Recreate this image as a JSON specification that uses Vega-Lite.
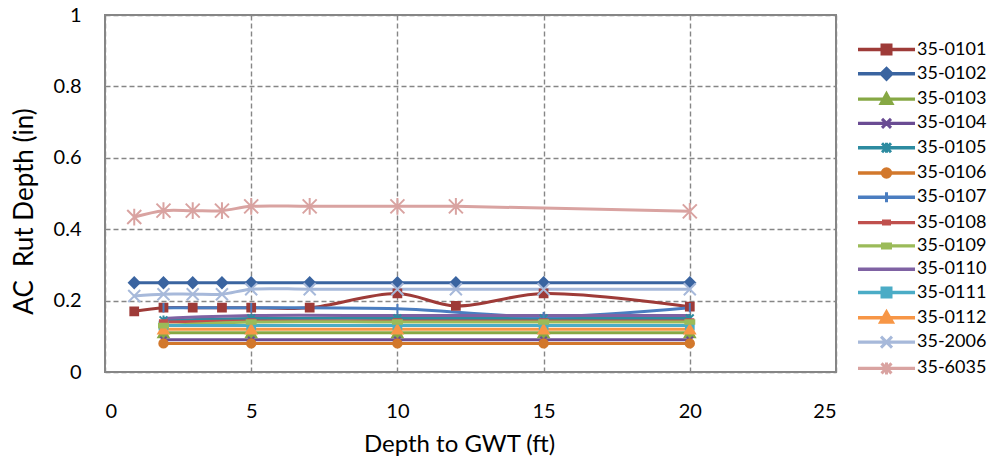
{
  "$schema": "https://vega.github.io/schema/vega-lite/v6.json",
  "autosize": {"type": "none"},
  "width": 731,
  "height": 357,
  "padding": {"left": 105, "top": 15, "right": 157, "bottom": 89},
  "background": "white",
  "config": {
    "font": "Lato",
    "view": {"stroke": "#868686", "strokeWidth": 2},
    "axis": {
      "labelFont": "Lato", "titleFont": "Lato", "labelColor": "#000", "titleColor": "#000",
      "labelFontSize": 20, "titleFontSize": 26, "titleFontWeight": "normal",
      "domain": false, "ticks": false, "tickSize": 0,
      "grid": true, "gridColor": "#868686", "gridWidth": 1.4, "gridDash": [5, 3]
    }
  },
  "data": {"values": [
    {"s":"35-0101","x":1,"y":0.17},{"s":"35-0101","x":2,"y":0.18},{"s":"35-0101","x":3,"y":0.18},{"s":"35-0101","x":4,"y":0.18},{"s":"35-0101","x":5,"y":0.18},{"s":"35-0101","x":7,"y":0.18},{"s":"35-0101","x":10,"y":0.22},{"s":"35-0101","x":12,"y":0.185},{"s":"35-0101","x":15,"y":0.22},{"s":"35-0101","x":20,"y":0.183},
    {"s":"35-0102","x":1,"y":0.25},{"s":"35-0102","x":2,"y":0.25},{"s":"35-0102","x":3,"y":0.25},{"s":"35-0102","x":4,"y":0.25},{"s":"35-0102","x":5,"y":0.25},{"s":"35-0102","x":7,"y":0.25},{"s":"35-0102","x":10,"y":0.25},{"s":"35-0102","x":12,"y":0.25},{"s":"35-0102","x":15,"y":0.25},{"s":"35-0102","x":20,"y":0.25},
    {"s":"35-0103","x":2,"y":0.11},{"s":"35-0103","x":5,"y":0.11},{"s":"35-0103","x":10,"y":0.11},{"s":"35-0103","x":15,"y":0.11},{"s":"35-0103","x":20,"y":0.11},
    {"s":"35-0104","x":2,"y":0.09},{"s":"35-0104","x":5,"y":0.09},{"s":"35-0104","x":10,"y":0.09},{"s":"35-0104","x":15,"y":0.09},{"s":"35-0104","x":20,"y":0.09},
    {"s":"35-0105","x":2,"y":0.145},{"s":"35-0105","x":5,"y":0.15},{"s":"35-0105","x":10,"y":0.15},{"s":"35-0105","x":15,"y":0.15},{"s":"35-0105","x":20,"y":0.15},
    {"s":"35-0106","x":2,"y":0.08},{"s":"35-0106","x":5,"y":0.08},{"s":"35-0106","x":10,"y":0.08},{"s":"35-0106","x":15,"y":0.08},{"s":"35-0106","x":20,"y":0.08},
    {"s":"35-0107","x":2,"y":0.18},{"s":"35-0107","x":5,"y":0.18},{"s":"35-0107","x":10,"y":0.177},{"s":"35-0107","x":15,"y":0.155},{"s":"35-0107","x":20,"y":0.18},
    {"s":"35-0108","x":2,"y":0.14},{"s":"35-0108","x":5,"y":0.143},{"s":"35-0108","x":10,"y":0.143},{"s":"35-0108","x":15,"y":0.143},{"s":"35-0108","x":20,"y":0.143},
    {"s":"35-0109","x":2,"y":0.13},{"s":"35-0109","x":5,"y":0.14},{"s":"35-0109","x":10,"y":0.14},{"s":"35-0109","x":15,"y":0.14},{"s":"35-0109","x":20,"y":0.14},
    {"s":"35-0110","x":2,"y":0.15},{"s":"35-0110","x":5,"y":0.158},{"s":"35-0110","x":10,"y":0.158},{"s":"35-0110","x":15,"y":0.158},{"s":"35-0110","x":20,"y":0.158},
    {"s":"35-0111","x":2,"y":0.13},{"s":"35-0111","x":5,"y":0.13},{"s":"35-0111","x":10,"y":0.13},{"s":"35-0111","x":15,"y":0.13},{"s":"35-0111","x":20,"y":0.13},
    {"s":"35-0112","x":2,"y":0.12},{"s":"35-0112","x":5,"y":0.12},{"s":"35-0112","x":10,"y":0.12},{"s":"35-0112","x":15,"y":0.12},{"s":"35-0112","x":20,"y":0.12},
    {"s":"35-2006","x":1,"y":0.213},{"s":"35-2006","x":2,"y":0.218},{"s":"35-2006","x":3,"y":0.218},{"s":"35-2006","x":4,"y":0.218},{"s":"35-2006","x":5,"y":0.232},{"s":"35-2006","x":7,"y":0.232},{"s":"35-2006","x":10,"y":0.232},{"s":"35-2006","x":12,"y":0.232},{"s":"35-2006","x":15,"y":0.232},{"s":"35-2006","x":20,"y":0.232},
    {"s":"35-6035","x":1,"y":0.434},{"s":"35-6035","x":2,"y":0.452},{"s":"35-6035","x":3,"y":0.452},{"s":"35-6035","x":4,"y":0.452},{"s":"35-6035","x":5,"y":0.464},{"s":"35-6035","x":7,"y":0.464},{"s":"35-6035","x":10,"y":0.464},{"s":"35-6035","x":12,"y":0.464},{"s":"35-6035","x":20,"y":0.45}
  ]},
  "encoding": {
    "x": {"field": "x", "type": "quantitative", "title": "Depth to GWT (ft)",
      "scale": {"domain": [0, 25], "nice": false},
      "axis": {"values": [0, 5, 10, 15, 20, 25], "labelPadding": 39, "labelBaseline": "middle", "titleX": 354, "titleY": 72, "titleFontSize": 24, "titleBaseline": "middle", "titleAnchor": null}},
    "y": {"field": "y", "type": "quantitative", "title": "AC\u00a0 Rut Depth (in)",
      "scale": {"domain": [0, 1], "nice": false},
      "axis": {"values": [0, 0.2, 0.4, 0.6, 0.8, 1], "format": "~g", "labelPadding": 24, "titleX": -81, "titleY": 196, "titleBaseline": "middle", "titleAngle": -90}}
  },
  "layer": [
    {
      "mark": {"type": "line", "strokeWidth": 3, "interpolate": "catmull-rom"},
      "encoding": {
        "color": {"field": "s", "type": "nominal",
          "scale": {"domain": ["35-0101","35-0102","35-0103","35-0104","35-0105","35-0106","35-0107","35-0108","35-0109","35-0110","35-0111","35-0112","35-2006","35-6035"],
            "range": ["#9E3B38","#3A64A0","#86A844","#6A4C93","#2D8BA0","#D2782C","#4A7DC0","#C0504D","#9BBB59","#7F62A3","#4BACC6","#F79646","#A7B9DA","#D9A3A1"]},
          "legend": {
            "title": null, "orient": "none", "legendX": 770, "legendY": 23, "padding": 0,
            "symbolSize": 400, "labelOffset": 19, "rowPadding": 2.3, "labelFont": "Lato", "labelFontSize": 18, "labelColor": "#000", "labelLimit": 200,
            "encode": {"symbols": {"update": {
              "shape": {"signal": "['M-2.7,-0.02L2.7,-0.02L2.7,0.02L-2.7,0.02ZM-0.45,-0.45L0.45,-0.45L0.45,0.45L-0.45,0.45Z','M-2.7,-0.02L2.7,-0.02L2.7,0.02L-2.7,0.02ZM0,-0.55L0.55,0L0,0.55L-0.55,0Z','M-2.7,-0.02L2.7,-0.02L2.7,0.02L-2.7,0.02ZM0,-0.55L0.55,0.45L-0.55,0.45Z','M-2.7,-0.02L2.7,-0.02L2.7,0.02L-2.7,0.02ZM-0.45,-0.45L0.45,0.45M-0.45,0.45L0.45,-0.45','M-2.7,-0.02L2.7,-0.02L2.7,0.02L-2.7,0.02ZM-0.45,-0.45L0.45,0.45M-0.45,0.45L0.45,-0.45M0,-0.5L0,0.5','M-2.7,-0.02L2.7,-0.02L2.7,0.02L-2.7,0.02ZM0.42,0A0.42,0.42,0,1,1,-0.42,0A0.42,0.42,0,1,1,0.42,0','M-2.7,-0.02L2.7,-0.02L2.7,0.02L-2.7,0.02ZM0,-0.5L0,0.5','M-2.7,-0.02L2.7,-0.02L2.7,0.02L-2.7,0.02ZM-0.3,-0.15L0.3,-0.15L0.3,0.15L-0.3,0.15Z','M-2.7,-0.02L2.7,-0.02L2.7,0.02L-2.7,0.02ZM-0.4,-0.2L0.4,-0.2L0.4,0.2L-0.4,0.2Z','M-2.7,-0.02L2.7,-0.02L2.7,0.02L-2.7,0.02Z','M-2.7,-0.02L2.7,-0.02L2.7,0.02L-2.7,0.02ZM-0.45,-0.45L0.45,-0.45L0.45,0.45L-0.45,0.45Z','M-2.7,-0.02L2.7,-0.02L2.7,0.02L-2.7,0.02ZM0,-0.6L0.6,0.45L-0.6,0.45Z','M-2.7,-0.02L2.7,-0.02L2.7,0.02L-2.7,0.02ZM-0.55,-0.55L0.55,0.55M-0.55,0.55L0.55,-0.55','M-2.7,-0.02L2.7,-0.02L2.7,0.02L-2.7,0.02ZM-0.5,-0.5L0.5,0.5M-0.5,0.5L0.5,-0.5M0,-0.6L0,0.6'][indexof(['35-0101','35-0102','35-0103','35-0104','35-0105','35-0106','35-0107','35-0108','35-0109','35-0110','35-0111','35-0112','35-2006','35-6035'], datum.value)]"},
              "fill": {"scale": "color", "field": "value"},
              "stroke": {"scale": "color", "field": "value"},
              "strokeWidth": {"value": 3},
              "opacity": {"value": 1}
            }}}
          }}
      }
    },
    {
      "transform": [{"calculate": "datum.s", "as": "m"}],
      "encoding": {
        "fill": {"field": "m", "type": "nominal", "legend": null,
          "scale": {"domain": ["35-0101","35-0102","35-0103","35-0104","35-0105","35-0106","35-0107","35-0108","35-0109","35-0110","35-0111","35-0112","35-2006","35-6035"],
            "range": ["#9E3B38","#3A64A0","#86A844","#6A4C93","#2D8BA0","#D2782C","#4A7DC0","#C0504D","#9BBB59","#7F62A3","#4BACC6","#F79646","#A7B9DA","#D9A3A1"]}},
        "stroke": {"field": "m", "type": "nominal", "legend": null,
          "scale": {"domain": ["35-0101","35-0102","35-0103","35-0104","35-0105","35-0106","35-0107","35-0108","35-0109","35-0110","35-0111","35-0112","35-2006","35-6035"],
            "range": ["#9E3B38","#3A64A0","#86A844","#6A4C93","#2D8BA0","#D2782C","#4A7DC0","#C0504D","#9BBB59","#7F62A3","#4BACC6","#F79646","#A7B9DA","#D9A3A1"]}}
      },
      "layer": [
        {"transform": [{"filter": {"field": "s", "oneOf": ["35-0101", "35-0111"]}}], "mark": {"type": "point", "shape": "square", "size": 60, "strokeWidth": 2, "opacity": 1}},
        {"transform": [{"filter": {"field": "s", "equal": "35-0102"}}], "mark": {"type": "point", "shape": "diamond", "size": 110, "strokeWidth": 2, "opacity": 1}},
        {"transform": [{"filter": {"field": "s", "oneOf": ["35-0103", "35-0112"]}}], "mark": {"type": "point", "shape": "triangle-up", "size": 105, "strokeWidth": 2, "opacity": 1}},
        {"transform": [{"filter": {"field": "s", "equal": "35-0104"}}], "mark": {"type": "point", "shape": "M-1,-1L1,1M-1,1L1,-1", "size": 40, "strokeWidth": 2, "opacity": 1}},
        {"transform": [{"filter": {"field": "s", "equal": "35-0105"}}], "mark": {"type": "point", "shape": "M-1,-1L1,1M-1,1L1,-1M0,-1.2L0,1.2", "size": 60, "strokeWidth": 2, "opacity": 1}},
        {"transform": [{"filter": {"field": "s", "equal": "35-0106"}}], "mark": {"type": "point", "shape": "circle", "size": 70, "strokeWidth": 2, "opacity": 1}},
        {"transform": [{"filter": {"field": "s", "equal": "35-0107"}}], "mark": {"type": "point", "shape": "M0,-1L0,1", "size": 90, "strokeWidth": 2, "opacity": 1}},
        {"transform": [{"filter": {"field": "s", "equal": "35-0108"}}], "mark": {"type": "point", "shape": "M-1,-0.5L1,-0.5L1,0.5L-1,0.5Z", "size": 50, "strokeWidth": 2, "opacity": 1}},
        {"transform": [{"filter": {"field": "s", "equal": "35-0109"}}], "mark": {"type": "point", "shape": "M-1,-0.4L1,-0.4L1,0.4L-1,0.4Z", "size": 80, "strokeWidth": 2, "opacity": 1}},
        {"transform": [{"filter": {"field": "s", "equal": "35-2006"}}], "mark": {"type": "point", "shape": "M-1,-1L1,1M-1,1L1,-1", "size": 144, "strokeWidth": 2, "opacity": 1}},
        {"transform": [{"filter": {"field": "s", "equal": "35-6035"}}], "mark": {"type": "point", "shape": "M-1,-1L1,1M-1,1L1,-1M0,-1.2L0,1.2", "size": 196, "strokeWidth": 2, "opacity": 1}}
      ]
    }
  ]
}
